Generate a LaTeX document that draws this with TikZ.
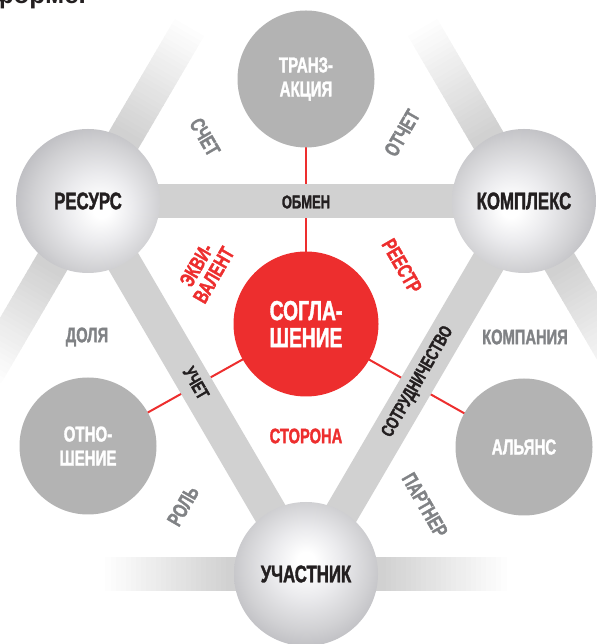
\documentclass[tikz,border=0pt]{standalone}
\usepackage{fontspec}
\setmainfont{Liberation Sans}[FakeStretch=0.7, BoldFeatures={FakeBold=1.5}]
\newfontfamily\headfont{Liberation Sans}
\usepackage{xcolor}
\usetikzlibrary{calc, backgrounds, positioning}

\definecolor{coralred}{RGB}{237,46,46}
\definecolor{subgray}{RGB}{179,179,179}
\definecolor{bargray}{RGB}{209,209,209}
\definecolor{lblgray}{RGB}{128,130,133}
\definecolor{inkblack}{RGB}{35,31,32}
\def\spherestops{rgb(0bp)=(1,1,1); rgb(3bp)=(1,1,1); rgb(12bp)=(0.92,0.92,0.93); rgb(22bp)=(0.82,0.82,0.83); rgb(32bp)=(0.7,0.7,0.72); rgb(41bp)=(0.59,0.59,0.62); rgb(47bp)=(0.51,0.51,0.54); rgb(50bp)=(0.47,0.47,0.5)}
\pgfdeclareradialshading{sphereL}{\pgfpoint{5bp}{-3bp}}{\spherestops}
\pgfdeclareradialshading{sphereR}{\pgfpoint{-5bp}{-3bp}}{\spherestops}
\pgfdeclareradialshading{sphereB}{\pgfpoint{0bp}{5bp}}{\spherestops}

\begin{document}
\begin{tikzpicture}[x=1pt, y=1pt,
    bigball/.style={circle, minimum size=144pt, inner sep=0pt, shade, text=inkblack, font=\bfseries\fontsize{24}{27}\selectfont},
    subball/.style={circle, minimum size=137pt, inner sep=0pt, fill=subgray, text=white, align=center, font=\bfseries\fontsize{21.5}{24}\selectfont},
    coreball/.style={circle, minimum size=145pt, inner sep=0pt, fill=coralred, text=white, align=center, font=\bfseries\fontsize{27.5}{27}\selectfont},
    bar/.style={draw=bargray, line width=34pt},
    tie/.style={draw=coralred, line width=2pt},
    barlbl/.style={text=inkblack, font=\bfseries\fontsize{18.5}{20}\selectfont},
    graylbl/.style={text=lblgray, font=\bfseries\fontsize{21}{22}\selectfont},
    redlbl/.style={text=coralred, align=center, font=\bfseries\fontsize{21}{20}\selectfont}
]
\useasboundingbox (0,0) rectangle (596,644);

% centre and the six circles
\node[coreball] (core) at (306,320) {СОГЛА-\\ШЕНИЕ};
\node[bigball, shading=sphereL] (res) at (88,443) {РЕСУРС};
\node[bigball, shading=sphereR] (kom) at (524,443) {КОМПЛЕКС};
\node[bigball, shading=sphereB] (uch) at (306,70) {УЧАСТНИК};
\node[subball] (tra) at (306,565) {ТРАНЗ-\\АКЦИЯ};
\node[subball] (otn) at (88,198) {ОТНО-\\ШЕНИЕ};
\node[subball] (ali) at (524,197) {АЛЬЯНС};

% corners of the outer triangle
\coordinate (apex) at ($(res.center)+(kom.center)-(uch.center)$);
\coordinate (cornL) at ($(res.center)+(uch.center)-(kom.center)$);
\coordinate (cornR) at ($(kom.center)+(uch.center)-(res.center)$);

\begin{scope}[on background layer]
  % fading outer bars
  \foreach \a/\b in {res/apex, res/cornL, kom/apex, kom/cornR, uch/cornL, uch/cornR}{
    \draw[bar] (\a.center) -- ($(\a.center)!81pt!(\b)$);
    \foreach \i in {0,...,23}{
      \pgfmathsetmacro\pa{80+5*\i}
      \pgfmathsetmacro\pb{86+5*\i}
      \pgfmathtruncatemacro\tone{96-4*\i}
      \draw[bar, draw=bargray!\tone] ($(\a.center)!\pa pt!(\b)$) -- ($(\a.center)!\pb pt!(\b)$);
    }
  }
  % red ties
  \draw[tie] (core.center) -- (tra.center);
  \draw[tie] (core.center) -- (otn.center);
  \draw[tie] (core.center) -- (ali.center);
  % inner triangle
  \draw[bar] (res.center) -- (kom.center);
  \draw[bar] (res.center) -- (uch.center);
  \draw[bar] (kom.center) -- (uch.center);
\end{scope}

% labels on the bars
\node[barlbl] (obmen) at (306,442) {ОБМЕН};
\node[barlbl, rotate=-60] (uchet) at (196,261) {УЧЕТ};
\node[barlbl, rotate=60] (sotr) at (418,262) {СОТРУДНИЧЕСТВО};

% gray labels
\node[graylbl, rotate=-60] (schet) at (205,507) {СЧЕТ};
\node[graylbl, rotate=60] (otchet) at (402,511) {ОТЧЕТ};
\node[graylbl] (dolya) at (87,307) {ДОЛЯ};
\node[graylbl] (komp) at (525,307) {КОМПАНИЯ};
\node[graylbl, rotate=60] (rol) at (183,138) {РОЛЬ};
\node[graylbl, rotate=-60] (partn) at (425,139) {ПАРТНЕР};

% red labels
\node[redlbl, rotate=60] (ekv) at (205,374) {ЭКВИ-\\ВАЛЕНТ};
\node[redlbl, rotate=-60] (reestr) at (402,378) {РЕЕСТР};
\node[redlbl] (storona) at (306,208) {СТОРОНА};

\node[anchor=base west, inner sep=0pt, text=inkblack, font=\headfont\bfseries\fontsize{26}{30}\selectfont] (head) at (-9,640) {форме.};

\end{tikzpicture}
\end{document}
